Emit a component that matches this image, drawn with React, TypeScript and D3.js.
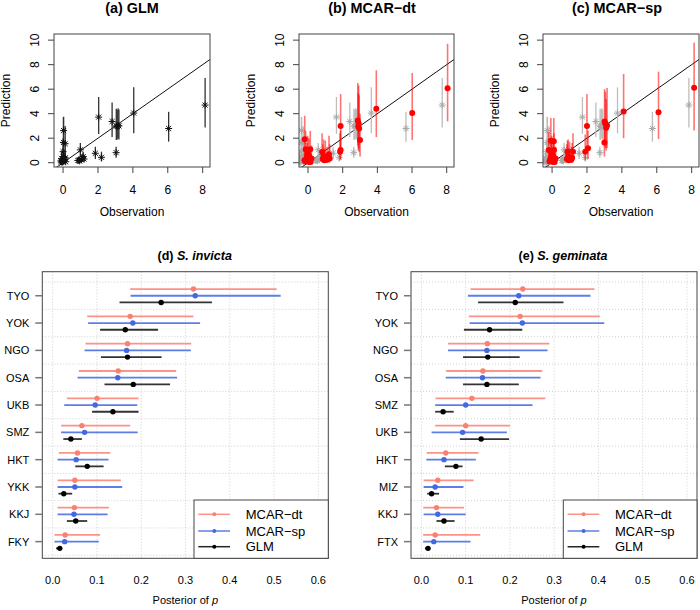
import React from "react";
import * as d3 from "d3";

// ---- top row: observed count (jittered) vs posterior prediction with 95% interval
const glmObs = [-0.1, -0.05, 0, 0.05, 0.1, -0.08, 0.12, 0.02, -0.12, 0.15, 0.08, -0.02, 0, 0.03, 0.02, 0.12,
  0.99, 0.9, 0.95, 1.05, 1.1, 1.2, 1.15, 0.85, 1.85, 2.2, 2.04, 2.81, 3.04, 3.05, 3.1, 3.15, 3.2, 4.05, 6.05, 8.14];
const glmPred = [0.05, 0.1, 0.15, 0.2, 0.3, 0.35, 0.4, 0.5, 0.15, 0.08, 0.25, 0.05, 0.9, 2.62, 1.65, 1.55,
  1.05, 0.2, 0.15, 0.25, 0.35, 0.3, 0.5, 0.18, 0.77, 0.44, 3.72, 3.36, 0.82, 3.0, 2.95, 3.05, 3.0, 4.05, 2.79, 4.7];
const glmLo = [0, 0, 0, 0, 0, 0, 0.05, 0.1, 0, 0, 0, 0, 0.3, 0.9, 0.6, 0.5,
  0.5, 0.05, 0, 0.05, 0.1, 0.1, 0.2, 0, 0.3, 0.1, 2.35, 2.1, 0.4, 1.86, 1.9, 2.0, 1.9, 2.4, 1.72, 2.87];
const glmHi = [0.3, 0.4, 0.5, 0.6, 0.8, 0.9, 1.0, 1.2, 0.4, 0.3, 0.6, 0.2, 2.0, 3.75, 3.7, 3.0,
  1.6, 0.5, 0.4, 0.6, 0.7, 0.6, 0.9, 0.4, 1.3, 0.9, 5.36, 4.92, 1.3, 4.4, 4.3, 4.45, 4.35, 6.15, 4.15, 6.92];

const dtObs = [-0.19, -0.14, 0.13, -0.15, -0.1, -0.05, 0, 0.05, 0.1, 0.15, -0.2, 0.2, 0.05, -0.02,
  0.81, 1.21, 0.85, 0.95, 1.0, 1.1, 1.25, 0.9, 1.88, 1.88, 1.85, 2.87, 2.9, 2.95, 3.0, 2.92, 3.94, 6.01, 8.05];
const dtPred = [1.92, 1.1, 1.1, 0.1, 0.3, 0.5, 0.15, 0.6, 0.25, 0.05, 0.2, 0.35, 0.05, 0.8,
  0.88, 0.69, 0.3, 0.2, 0.45, 0.25, 0.35, 0.55, 3.0, 1.04, 0.9, 3.44, 2.96, 2.8, 1.86, 3.2, 4.4, 4.05, 6.08];
const dtLo = [0.1, 0.1, 0.2, 0, 0, 0, 0, 0.05, 0, 0, 0, 0, 0, 0.1,
  0.2, 0.1, 0, 0, 0.05, 0, 0, 0.1, 1.0, 0.3, 0.2, 1.4, 1.0, 0.9, 0.5, 1.2, 2.09, 1.86, 3.37];
const dtHi = [3.83, 2.6, 2.6, 0.8, 1.2, 1.6, 0.9, 2.0, 1.0, 0.6, 1.0, 1.4, 0.5, 2.2,
  2.4, 2.2, 1.5, 1.2, 1.8, 1.3, 1.5, 1.9, 5.6, 2.6, 2.4, 6.5, 5.7, 5.5, 4.0, 6.3, 7.54, 7.32, 9.7];

const spObs = [-0.07, 0.1, -0.19, 0.11, -0.15, -0.1, -0.05, 0, 0.05, 0.1, 0.15, 0.2, -0.02, 0.05,
  0.88, 1.2, 0.85, 0.95, 1.0, 1.1, 1.15, 0.92, 2.0, 2.06, 1.9, 3.01, 3.15, 3.0, 3.05, 3.1, 4.1, 6.1, 8.14];
const spPred = [1.8, 1.75, 1.04, 1.04, 0.1, 0.3, 0.5, 0.15, 0.6, 0.25, 0.05, 0.35, 0.8, 0.05,
  0.9, 0.9, 0.3, 0.2, 0.45, 0.25, 0.4, 0.55, 3.0, 1.18, 0.9, 3.36, 3.04, 1.65, 3.2, 2.85, 4.18, 4.12, 6.12];
const spLo = [0.2, 0.2, 0.1, 0.1, 0, 0, 0, 0, 0.05, 0, 0, 0, 0.1, 0,
  0.2, 0.2, 0, 0, 0.05, 0, 0, 0.1, 1.1, 0.3, 0.2, 1.5, 1.2, 0.5, 1.2, 1.0, 2.0, 1.93, 2.63];
const spHi = [3.65, 3.65, 2.5, 2.4, 0.8, 1.2, 1.6, 0.9, 2.0, 1.0, 0.6, 1.3, 2.2, 0.5,
  1.8, 2.4, 1.5, 1.2, 1.7, 1.3, 1.6, 1.9, 5.6, 2.6, 2.3, 6.0, 6.1, 3.3, 5.8, 5.2, 7.24, 7.42, 9.78];

// ---- bottom row: posterior of p per site, [lower, median, upper]
const invictaSites = ["TYO", "YOK", "NGO", "OSA", "UKB", "SMZ", "HKT", "YKK", "KKJ", "FKY"];
const invictaDt = [[0.175, 0.318, 0.506], [0.078, 0.175, 0.318], [0.074, 0.169, 0.313], [0.059, 0.148, 0.279],
  [0.032, 0.1, 0.194], [0.019, 0.066, 0.175], [0.014, 0.056, 0.13], [0.011, 0.05, 0.154], [0.011, 0.049, 0.127], [0.004, 0.028, 0.107]];
const invictaSp = [[0.176, 0.322, 0.515], [0.08, 0.181, 0.333], [0.072, 0.167, 0.312], [0.056, 0.147, 0.281],
  [0.026, 0.096, 0.191], [0.019, 0.072, 0.192], [0.011, 0.053, 0.126], [0.011, 0.05, 0.157], [0.011, 0.048, 0.124], [0.004, 0.027, 0.104]];
const invictaGlm = [[0.151, 0.245, 0.36], [0.107, 0.164, 0.238], [0.109, 0.169, 0.246], [0.117, 0.182, 0.265],
  [0.089, 0.136, 0.194], [0.024, 0.041, 0.066], [0.051, 0.078, 0.115], [0.013, 0.025, 0.044], [0.032, 0.052, 0.078], [0.0075, 0.016, 0.02]];

const geminataSites = ["TYO", "YOK", "NGO", "OSA", "SMZ", "UKB", "HKT", "MIZ", "KKJ", "FTX"];
const geminataDt = [[0.111, 0.229, 0.391], [0.107, 0.223, 0.403], [0.06, 0.149, 0.289], [0.056, 0.139, 0.273],
  [0.032, 0.114, 0.28], [0.031, 0.1, 0.2], [0.012, 0.055, 0.129], [0.005, 0.037, 0.118], [0.004, 0.034, 0.096], [0.004, 0.031, 0.133]];
const geminataSp = [[0.105, 0.22, 0.382], [0.109, 0.228, 0.413], [0.06, 0.148, 0.285], [0.055, 0.138, 0.269],
  [0.031, 0.1, 0.251], [0.023, 0.093, 0.193], [0.011, 0.051, 0.123], [0.005, 0.031, 0.095], [0.005, 0.037, 0.1], [0.004, 0.028, 0.111]];
const geminataGlm = [[0.128, 0.212, 0.321], [0.096, 0.154, 0.228], [0.094, 0.15, 0.222], [0.094, 0.148, 0.22],
  [0.031, 0.049, 0.073], [0.087, 0.135, 0.198], [0.053, 0.078, 0.093], [0.013, 0.023, 0.04], [0.034, 0.051, 0.075], [0.008, 0.015, 0.019]];

const FONT = "'Liberation Sans', Arial, Helvetica, sans-serif";
const COL_DT = "#FA8072";
const COL_SP = "#4169E1";
const MINUS = "\u2212";

// asterisk like R's pch = 8
const star = (x: number, y: number, s = 3.5) => {
  const d = s * 0.72;
  return `M${x - s},${y}H${x + s}M${x},${y - s}V${y + s}M${x - d},${y - d}L${x + d},${y + d}M${x - d},${y + d}L${x + d},${y - d}`;
};

const yPred = d3.scaleLinear().domain([-0.35, 10.5]).range([167, 34]);

function Scatter({ left, right, title, titleX, model, grayShift }: any) {
  const x = d3.scaleLinear().domain([-0.52, 8.42]).range([left, right]);
  const y = yPred;
  const [top, bottom] = [y.range()[1], y.range()[0]];
  const clipId = `clip-${left}`;
  const glmColor = model ? "#a8a8a8" : "#111";
  const glmBar = model ? "#bdbdbd" : "#333";
  const shift = model ? grayShift : 0;

  return (
    <g fontFamily={FONT}>
      <text x={titleX} y={12.7} textAnchor="middle" fontWeight="bold" fontSize={14.4}>{title}</text>
      <defs>
        <clipPath id={clipId}>
          <rect x={left} y={top} width={right - left} height={bottom - top} />
        </clipPath>
      </defs>
      <g clipPath={`url(#${clipId})`}>
        <line x1={x(-1)} y1={y(-1)} x2={x(11)} y2={y(11)} stroke="#111" strokeWidth={1} />
        {glmObs.map((o, i) => (
          <line key={"gb" + i} x1={x(o + shift)} x2={x(o + shift)} y1={y(glmLo[i])} y2={y(glmHi[i])}
            stroke={glmBar} strokeWidth={1.3} />
        ))}
        {glmObs.map((o, i) => (
          <path key={"gs" + i} d={star(x(o + shift), y(glmPred[i]))} stroke={glmColor} strokeWidth={1} fill="none" />
        ))}
        {model && model.obs.map((o: number, i: number) => (
          <line key={"mb" + i} x1={x(o)} x2={x(o)} y1={y(model.lo[i])} y2={y(model.hi[i])}
            stroke="red" strokeOpacity={0.55} strokeWidth={1.6} />
        ))}
        {model && model.obs.map((o: number, i: number) => (
          <circle key={"mp" + i} cx={x(o)} cy={y(model.pred[i])} r={3} fill="red" />
        ))}
      </g>
      <rect x={left} y={top} width={right - left} height={bottom - top} fill="none" stroke="#444" strokeWidth={1} />
      {y.ticks(5).map((t) => (
        <g key={"yt" + t}>
          <line x1={left - 6} x2={left} y1={y(t)} y2={y(t)} stroke="#444" />
          <text transform={`translate(${left - 15.5},${y(t)}) rotate(-90)`} textAnchor="middle" fontSize={12}>{t}</text>
        </g>
      ))}
      {x.ticks(5).map((t) => (
        <g key={"xt" + t}>
          <line x1={x(t)} x2={x(t)} y1={bottom} y2={bottom + 6} stroke="#444" />
          <text x={x(t)} y={194.3} textAnchor="middle" fontSize={12}>{t}</text>
        </g>
      ))}
      <text x={(left + right) / 2} y={216} textAnchor="middle" fontSize={12}>Observation</text>
      <text transform={`translate(${left - 44},${(top + bottom) / 2}) rotate(-90)`} textAnchor="middle" fontSize={12}>
        Prediction
      </text>
    </g>
  );
}

function DotPanel({ left, right, tag, species, titleX, sites, dt, sp, glm, legendLeft }: any) {
  const x = d3.scaleLinear().domain([-0.0235, 0.6226]).range([left, right]);
  const y = d3.scaleLinear().domain([-0.88, 9.61]).range([271.7, 558.3]);
  const top = 271.7;
  const bottom = 558.3;
  const xt = [0, 0.1, 0.2, 0.3, 0.4, 0.5, 0.6];
  const gridY = d3.range(-0.5, 9.6, 1);
  const series = [
    { data: dt, color: COL_DT, off: -6.7, label: `MCAR${MINUS}dt` },
    { data: sp, color: COL_SP, off: 0, label: `MCAR${MINUS}sp` },
    { data: glm, color: "#000", off: 6.7, label: "GLM" },
  ];
  const legY = [514.3, 531, 546.7];

  return (
    <g fontFamily={FONT}>
      <text x={titleX} y={259.5} textAnchor="middle" fontWeight="bold" fontSize={12.5}>
        <tspan>{tag} </tspan>
        <tspan fontStyle="italic">{species}</tspan>
      </text>
      {xt.map((t) => (
        <line key={"gx" + t} x1={x(t)} x2={x(t)} y1={top} y2={bottom} stroke="#cfcfcf" strokeDasharray="1,2" />
      ))}
      {gridY.map((g) => (
        <line key={"gy" + g} x1={left} x2={right} y1={y(g)} y2={y(g)} stroke="#cfcfcf" strokeDasharray="1,2" />
      ))}
      {series.map((s) =>
        s.data.map((d: number[], i: number) => (
          <g key={s.label + i}>
            <line x1={x(d[0])} x2={x(d[2])} y1={y(i) + s.off} y2={y(i) + s.off} stroke={s.color}
              strokeWidth={1.8} strokeOpacity={s.color === "#000" ? 0.8 : 0.85} />
            <circle cx={x(d[1])} cy={y(i) + s.off} r={2.7} fill={s.color} />
          </g>
        ))
      )}
      <rect x={left} y={top} width={right - left} height={bottom - top} fill="none" stroke="#444" strokeWidth={1} />
      {sites.map((s: string, i: number) => (
        <g key={s}>
          <line x1={left - 7} x2={left} y1={y(i)} y2={y(i)} stroke="#777" strokeWidth={1.5} />
          <text x={left - 13} y={y(i)} dy="0.36em" textAnchor="end" fontSize={11}>{s}</text>
        </g>
      ))}
      {xt.map((t) => (
        <text key={"xl" + t} x={x(t)} y={584} textAnchor="middle" fontSize={11}>{t.toFixed(1)}</text>
      ))}
      <text x={(left + right) / 2} y={604} textAnchor="middle" fontSize={11}>
        Posterior of <tspan fontStyle="italic">p</tspan>
      </text>
      <rect x={legendLeft} y={500} width={right - legendLeft} height={bottom - 500} fill="#fff" stroke="#444" />
      {series.map((s, i) => (
        <g key={"lg" + i}>
          <line x1={legendLeft + 4.3} x2={legendLeft + 36} y1={legY[i]} y2={legY[i]} stroke={s.color}
            strokeWidth={1.5} strokeOpacity={0.85} />
          <circle cx={legendLeft + 20.3} cy={legY[i]} r={2} fill={s.color} />
          <text x={legendLeft + 51.7} y={legY[i]} dy="0.36em" fontSize={13}>{s.label}</text>
        </g>
      ))}
    </g>
  );
}

export default function App() {
  return (
    <svg width={700} height={610} style={{ position: "absolute", left: 0, top: 0, background: "#fff" }}>
      <Scatter left={54} right={210} title="(a) GLM" titleX={132} />
      <Scatter left={299} right={454} title={`(b) MCAR${MINUS}dt`} titleX={372} grayShift={-0.4}
        model={{ obs: dtObs, pred: dtPred, lo: dtLo, hi: dtHi }} />
      <Scatter left={543} right={699} title={`(c) MCAR${MINUS}sp`} titleX={617} grayShift={-0.3}
        model={{ obs: spObs, pred: spPred, lo: spLo, hi: spHi }} />
      <DotPanel left={42.3} right={328.3} tag="(d)" species="S. invicta" titleX={194.7}
        sites={invictaSites} dt={invictaDt} sp={invictaSp} glm={invictaGlm} legendLeft={194} />
      <DotPanel left={411} right={697} tag="(e)" species="S. geminata" titleX={563}
        sites={geminataSites} dt={geminataDt} sp={geminataSp} glm={geminataGlm} legendLeft={563.3} />
    </svg>
  );
}
